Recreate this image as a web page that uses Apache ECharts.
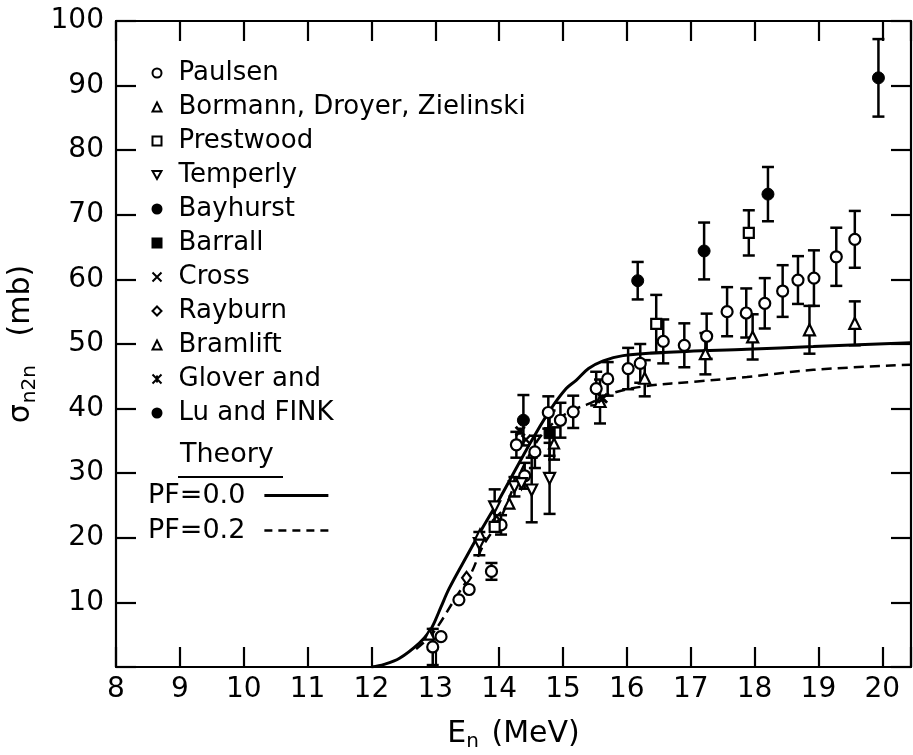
<!DOCTYPE html>
<html><head><meta charset="utf-8">
<script src="https://cdn.jsdelivr.net/npm/echarts@6/dist/echarts.min.js"></script>
<style>html,body{margin:0;padding:0;background:#fff}#c{width:913px;height:755px}</style>
</head><body><div id="c"></div>
<script>
// ---- data ----
const xTickLabels = [8,9,10,11,12,13,14,15,16,17,18,19,20];
const yTickLabels = [10,20,30,40,50,60,70,80,90,100];

const theory0E = [12.0, 12.2, 12.44, 12.75, 12.91, 12.99, 13.09, 13.22, 13.49, 13.75, 14.01, 14.27, 14.53, 14.80, 15.05, 15.21, 15.40, 15.63, 15.94, 16.57, 17.88, 18.92, 20.45];
const theory0S = [0, 0.4, 1.35, 3.7, 5.5, 7.0, 9.3, 12.2, 17.1, 21.7, 26.1, 30.8, 35.4, 39.8, 43.1, 44.4, 46.2, 47.4, 48.2, 48.7, 49.2, 49.6, 50.2];
const theory2E = [12.7, 12.96, 13.33, 13.56, 13.74, 14.01, 14.21, 14.43, 14.64, 14.9, 15.16, 15.37, 15.78, 16.31, 17.10, 17.88, 18.92, 20.45];
const theory2S = [2.8, 5.2, 10.9, 14.5, 18.6, 22.8, 27.4, 32.0, 35.6, 38.2, 39.8, 40.6, 42.4, 43.5, 44.2, 44.9, 46.0, 46.8];

const paulsenE = [12.96, 13.09, 13.37, 13.53, 13.88, 14.03, 14.27, 14.40, 14.56, 14.77, 14.96, 15.16, 15.52, 15.70, 16.02, 16.21, 16.57, 16.90, 17.25, 17.57, 17.87, 18.16, 18.44, 18.68, 18.93, 19.28, 19.57];
const paulsenS = [3.1, 4.7, 10.4, 12.0, 14.8, 22.0, 34.4, 29.6, 33.3, 39.4, 38.2, 39.5, 43.1, 44.6, 46.2, 47.0, 50.4, 49.8, 51.2, 55.0, 54.8, 56.3, 58.2, 59.9, 60.2, 63.5, 66.2];
const paulsenErr = [2.8, 0, 0, 0, 1.3, 1.5, 2.0, 2.0, 2.5, 2.5, 2.7, 2.5, 2.6, 2.6, 3.2, 3.0, 3.4, 3.4, 3.5, 3.8, 3.8, 3.9, 4.0, 3.7, 4.3, 4.5, 4.4];

const bormannE = [15.58, 16.28, 17.23, 17.97, 18.86, 19.57];
const bormannS = [41.1, 44.7, 48.5, 51.1, 52.2, 53.2];
const bormannErr = [3.4, 2.8, 3.2, 3.5, 3.7, 3.4];

const prestwoodE = [13.93, 16.46, 17.91];
const prestwoodS = [21.7, 53.1, 67.2];
const prestwoodErr = [0, 4.5, 3.5];

const temperlyE = [13.69, 13.93, 14.24, 14.35, 14.51, 14.79];
const temperlyS = [19.1, 24.8, 27.9, 28.4, 27.4, 29.2];
const temperlyErr = [1.8, 2.7, 1.5, 0, 5.0, 5.5];

const bayhurstE = [16.17, 17.21, 18.21, 19.94];
const bayhurstS = [59.8, 64.4, 73.2, 91.2];
const bayhurstErr = [2.9, 4.4, 4.2, 6.0];

const barrallE = [14.79];
const barrallS = [36.2];
const barrallErr = [3.5];

const crossE = [13.96, 14.42];
const crossS = [23.3, 35.2];
const crossErr = [0, 0];

const rayburnE = [13.49];
const rayburnS = [13.8];
const rayburnErr = [0];

const bramliftE = [12.91, 13.70, 14.16, 14.86];
const bramliftS = [5.0, 20.5, 25.3, 34.6];
const bramliftErr = [0, 0, 0, 2.5];

const gloverE = [14.33, 15.62];
const gloverS = [36.5, 41.6];
const gloverErr = [0, 0];

const luE = [14.38];
const luS = [38.2];
const luErr = [3.9];

// ---- chart ----
const FONT = 'DejaVu Sans';
const chart = echarts.init(document.getElementById('c'), null, {renderer: 'canvas'});
const open = {color: '#fff', borderColor: '#000', borderWidth: 2.2, opacity: 1};
const filled = {color: '#000', borderColor: '#000', borderWidth: 1, opacity: 1};
const stroke = {color: 'none', borderColor: '#000', borderWidth: 2.2, opacity: 1};

const groups = [
  {name: 'Paulsen', E: paulsenE, S: paulsenS, Err: paulsenErr, symbol: 'circle', size: 11, style: open},
  {name: 'Bormann, Droyer, Zielinski', E: bormannE, S: bormannS, Err: bormannErr, symbol: 'triangle', size: 11, style: open},
  {name: 'Prestwood', E: prestwoodE, S: prestwoodS, Err: prestwoodErr, symbol: 'rect', size: 10, style: open},
  {name: 'Temperly', E: temperlyE, S: temperlyS, Err: temperlyErr, symbol: 'path://M0,0L10,0L5,9Z', size: 11, style: open},
  {name: 'Bayhurst', E: bayhurstE, S: bayhurstS, Err: bayhurstErr, symbol: 'circle', size: 12, style: filled},
  {name: 'Barrall', E: barrallE, S: barrallS, Err: barrallErr, symbol: 'rect', size: 11, style: filled},
  {name: 'Cross', E: crossE, S: crossS, Err: crossErr, symbol: 'path://M0,0L10,10M10,0L0,10', size: 9, style: stroke},
  {name: 'Rayburn', E: rayburnE, S: rayburnS, Err: rayburnErr, symbol: 'diamond', size: [9, 12], style: open},
  {name: 'Bramlift', E: bramliftE, S: bramliftS, Err: bramliftErr, symbol: 'triangle', size: 10, style: open},
  {name: 'Glover and', E: gloverE, S: gloverS, Err: gloverErr, symbol: 'path://M0,0L10,10M10,0L0,10M5,1L5,9', size: 9, style: {color: 'none', borderColor: '#000', borderWidth: 3, opacity: 1}},
  {name: 'Lu and FINK', E: luE, S: luS, Err: luErr, symbol: 'circle', size: 12, style: filled}
];

function errRender(params, api) {
  const x = api.value(0), y = api.value(1), e = api.value(2);
  if (!e) return null;
  const top = api.coord([x, Math.min(100, y + e)]);
  const bot = api.coord([x, Math.max(0, y - e)]);
  const cap = 6;
  const st = {stroke: '#000', lineWidth: 2.5};
  return {type: 'group', children: [
    {type: 'line', shape: {x1: top[0], y1: top[1], x2: bot[0], y2: bot[1]}, style: st},
    {type: 'line', shape: {x1: top[0] - cap, y1: top[1], x2: top[0] + cap, y2: top[1]}, style: st},
    {type: 'line', shape: {x1: bot[0] - cap, y1: bot[1], x2: bot[0] + cap, y2: bot[1]}, style: st}
  ]};
}

const series = [];
series.push({
  name: 'PF=0.0', type: 'line', smooth: 0.35, symbol: 'none', showSymbol: false, z: 2,
  data: theory0E.map((e, i) => [e, theory0S[i]]),
  lineStyle: {color: '#000', width: 3, type: 'solid'}, itemStyle: {color: '#000'}
});
series.push({
  name: 'PF=0.2', type: 'line', smooth: 0.35, symbol: 'none', showSymbol: false, z: 2,
  data: theory2E.map((e, i) => [e, theory2S[i]]),
  lineStyle: {color: '#000', width: 2.5, type: [10, 6]}, itemStyle: {color: '#000'}
});
groups.forEach(g => {
  series.push({
    name: g.name + ' err', type: 'custom', z: 3, silent: true,
    renderItem: errRender, encode: {x: 0, y: 1},
    data: g.E.map((e, i) => [e, g.S[i], g.Err[i]])
  });
  series.push({
    name: g.name, type: 'scatter', z: 4, symbol: g.symbol, symbolSize: g.size,
    data: g.E.map((e, i) => [e, g.S[i]]),
    itemStyle: g.style
  });
});

const axisLine = {show: true, onZero: false, lineStyle: {color: '#000', width: 2.2}};
const tick = {show: true, inside: true, length: 20, lineStyle: {color: '#000', width: 2.2}};

chart.setOption({
  animation: false,
  backgroundColor: '#fff',
  grid: {left: 116, right: 2, top: 21, bottom: 88, containLabel: false, outerBoundsMode: 'none'},
  xAxis: [{
    type: 'value', min: 8, max: 20.45, interval: 1, position: 'bottom',
    axisLine: axisLine, axisTick: tick, splitLine: {show: false},
    axisLabel: {margin: 9, color: '#000', fontFamily: FONT, fontSize: 28,
      formatter: v => xTickLabels.indexOf(v) >= 0 ? String(v) : ''},
    name: '{a|E}{b|n}{a| (MeV)}', nameLocation: 'middle', nameGap: 52,
    nameTextStyle: {color: '#000', fontFamily: FONT, rich: {
      a: {fontSize: 30, lineHeight: 30, color: '#000', fontFamily: FONT},
      b: {fontSize: 20, lineHeight: 20, padding: [16, 3, 0, 0], color: '#000', fontFamily: FONT}
    }}
  }, {
    type: 'value', min: 8, max: 20.45, interval: 1, position: 'top',
    axisLine: axisLine, axisTick: tick, axisLabel: {show: false}, splitLine: {show: false}
  }],
  yAxis: [{
    type: 'value', min: 0, max: 100, interval: 10, position: 'left',
    axisLine: axisLine, axisTick: tick, splitLine: {show: false},
    axisLabel: {margin: 12, color: '#000', fontFamily: FONT, fontSize: 28,
      formatter: v => yTickLabels.indexOf(v) >= 0 ? String(v) : ''},
    name: '{a|σ}{b|n2n}{a|   (mb)}', nameLocation: 'middle', nameGap: 66, nameRotate: 90,
    nameTextStyle: {color: '#000', fontFamily: FONT, rich: {
      a: {fontSize: 30, lineHeight: 30, color: '#000', fontFamily: FONT},
      b: {fontSize: 20, lineHeight: 20, padding: [16, 0, 0, 1], color: '#000', fontFamily: FONT}
    }}
  }, {
    type: 'value', min: 0, max: 100, interval: 10, position: 'right',
    axisLine: axisLine, axisTick: tick, axisLabel: {show: false}, splitLine: {show: false}
  }],
  legend: [{
    data: groups.map(g => g.name), orient: 'vertical', left: 145, top: 55,
    itemWidth: 9, itemHeight: 9, itemGap: 8, selectedMode: false,
    textStyle: {color: '#000', fontFamily: FONT, fontSize: 26, lineHeight: 24, padding: [0, 0, 0, 12]}
  }, {
    data: [
      {name: 'PF=0.0', icon: 'path://M0,0H64V3H0Z'},
      {name: 'PF=0.2', icon: 'path://M0,0H8V2.4H0ZM14,0H22V2.4H14ZM28,0H36V2.4H28ZM42,0H50V2.4H42ZM56,0H64V2.4H56Z'}
    ],
    orient: 'vertical', left: 143, top: 477, align: 'right',
    itemWidth: 64, itemHeight: 3, itemGap: 8, selectedMode: false,
    itemStyle: {color: '#000', borderWidth: 0},
    textStyle: {color: '#000', fontFamily: FONT, fontSize: 27, lineHeight: 24, padding: [0, 14, 0, 0]}
  }],
  graphic: [
    {type: 'text', left: 180, top: 441, style: {text: 'Theory', fontFamily: FONT, fontSize: 27, fill: '#000'}},
    {type: 'line', shape: {x1: 178, y1: 477, x2: 283, y2: 477}, style: {stroke: '#000', lineWidth: 2}}
  ],
  series: series
});
</script></body></html>
